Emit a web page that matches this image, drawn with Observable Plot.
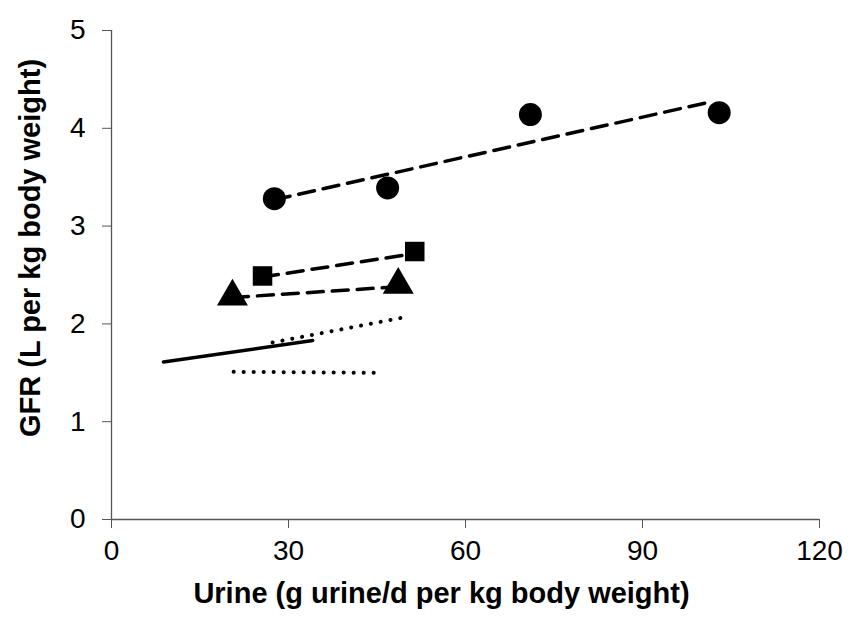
<!DOCTYPE html>
<html>
<head>
<meta charset="utf-8">
<script src="https://cdn.jsdelivr.net/npm/d3@7"></script>
<script src="https://cdn.jsdelivr.net/npm/@observablehq/plot@0.6"></script>
<style>
  html, body { margin: 0; padding: 0; background: #fff; }
  svg { font-family: "Liberation Sans", Arial, sans-serif; }
</style>
</head>
<body>
<div id="chart"></div>
<script>
// Axis ticks
const xTicks = [0, 30, 60, 90, 120];
const yTicks = [0, 1, 2, 3, 4, 5];
const xLabel = "Urine (g urine/d per kg body weight)";
const yLabel = "GFR (L per kg body weight)";

// Observed points
const circleX = [27.6, 46.8, 71.0, 103.0];
const circleY = [3.28, 3.39, 4.14, 4.16];
const squareX = [25.6, 51.4];
const squareY = [2.49, 2.74];
const triangleX = [20.5, 48.6];
const triangleY = [2.28, 2.40];

// Fitted lines (endpoints)
const circleFitX = [27.6, 101.5];
const circleFitY = [3.27, 4.27];
const squareFitX = [25.6, 51.4];
const squareFitY = [2.48, 2.72];
const triangleFitX = [20.5, 48.6];
const triangleFitY = [2.27, 2.38];
const solidFitX = [8.8, 34.1];
const solidFitY = [1.61, 1.83];
const dotUpperX = [27.3, 49.0];
const dotUpperY = [1.81, 2.06];
const dotLowerX = [20.7, 44.8];
const dotLowerY = [1.51, 1.50];

const pts = (xs, ys) => xs.map((x, i) => ({x, y: ys[i]}));

const chart = Plot.plot({
  width: 858,
  height: 637,
  marginLeft: 111,
  marginRight: 39,
  marginTop: 30,
  marginBottom: 118,
  style: {fontFamily: '"Liberation Sans", Arial, sans-serif', background: "#fff"},
  x: {domain: [0, 120]},
  y: {domain: [0, 5]},
  marks: [
    Plot.axisX({ticks: xTicks, tickFormat: "d", tickSize: 9, tickPadding: 12, fontSize: 28, label: null, stroke: "#555", fill: "#000"}),
    Plot.axisY({ticks: yTicks, tickFormat: "d", tickSize: 9, tickPadding: 17, fontSize: 28, label: null, stroke: "#555", fill: "#000"}),
    Plot.ruleY([0], {stroke: "#555", strokeWidth: 1.3}),
    Plot.ruleX([0], {stroke: "#555", strokeWidth: 1.3}),
    Plot.line(pts(circleFitX, circleFitY), {x: "x", y: "y", stroke: "#000", strokeWidth: 3.5, strokeDasharray: "16,9"}),
    Plot.line(pts(squareFitX, squareFitY), {x: "x", y: "y", stroke: "#000", strokeWidth: 3.5, strokeDasharray: "16,9"}),
    Plot.line(pts(triangleFitX, triangleFitY), {x: "x", y: "y", stroke: "#000", strokeWidth: 3.5, strokeDasharray: "16,9"}),
    Plot.line(pts(solidFitX, solidFitY), {x: "x", y: "y", stroke: "#000", strokeWidth: 3.4}),
    Plot.line(pts(dotUpperX, dotUpperY), {x: "x", y: "y", stroke: "#000", strokeWidth: 4, strokeDasharray: "0.1,9.9", strokeLinecap: "round"}),
    Plot.line(pts(dotLowerX, dotLowerY), {x: "x", y: "y", stroke: "#000", strokeWidth: 4, strokeDasharray: "0.1,9.9", strokeLinecap: "round"}),
    Plot.dot(pts(circleX, circleY), {x: "x", y: "y", symbol: "circle", r: 11.5, fill: "#000"}),
    Plot.dot(pts(squareX, squareY), {x: "x", y: "y", symbol: "square", r: 11, fill: "#000"}),
    Plot.dot(pts(triangleX, triangleY), {x: "x", y: "y", symbol: "triangle", r: 11.5, fill: "#000"}),
    Plot.text([xLabel], {frameAnchor: "bottom", textAnchor: "middle", lineAnchor: "middle", dx: -24, dy: 74, fontSize: 29, fontWeight: "bold", fill: "#000"}),
    Plot.text([yLabel], {frameAnchor: "left", textAnchor: "middle", lineAnchor: "middle", rotate: -90, dx: -81, dy: -27, fontSize: 29, fontWeight: "bold", fill: "#000"})
  ]
});
document.getElementById("chart").appendChild(chart);
</script>
</body>
</html>
